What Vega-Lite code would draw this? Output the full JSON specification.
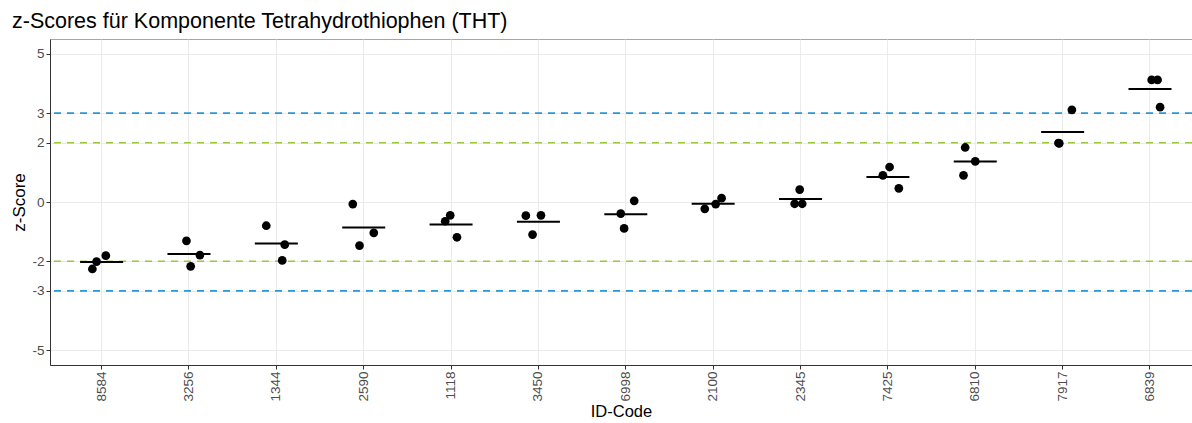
{
  "$schema": "https://vega.github.io/schema/vega-lite/v6.json",
  "autosize": {"type": "none"},
  "width": 1142,
  "height": 326,
  "padding": {"left": 50, "top": 39, "right": 0, "bottom": 58},
  "background": "white",
  "title": {
    "text": "z-Scores für Komponente Tetrahydrothiophen (THT)",
    "anchor": "start",
    "frame": "group",
    "dx": -38,
    "offset": 7,
    "font": "Liberation Sans",
    "fontSize": 21.5,
    "fontWeight": "normal",
    "color": "#000000"
  },
  "config": {
    "font": "Liberation Sans",
    "view": {"stroke": "#a6a6a6", "strokeWidth": 1}
  },
  "datasets": {
    "scores": [
      {"id": "8584", "z": -2.26, "jitter": -0.11},
      {"id": "8584", "z": -2.01, "jitter": -0.06},
      {"id": "8584", "z": -1.81, "jitter": 0.05},
      {"id": "3256", "z": -1.31, "jitter": -0.03},
      {"id": "3256", "z": -1.79, "jitter": 0.13},
      {"id": "3256", "z": -2.17, "jitter": 0.02},
      {"id": "1344", "z": -0.8, "jitter": -0.12},
      {"id": "1344", "z": -1.44, "jitter": 0.1},
      {"id": "1344", "z": -1.97, "jitter": 0.07},
      {"id": "2590", "z": -0.07, "jitter": -0.13},
      {"id": "2590", "z": -1.04, "jitter": 0.12},
      {"id": "2590", "z": -1.47, "jitter": -0.05},
      {"id": "1118", "z": -0.45, "jitter": -0.01},
      {"id": "1118", "z": -0.65, "jitter": -0.07},
      {"id": "1118", "z": -1.19, "jitter": 0.07},
      {"id": "3450", "z": -0.46, "jitter": -0.15},
      {"id": "3450", "z": -0.45, "jitter": 0.03},
      {"id": "3450", "z": -1.1, "jitter": -0.07},
      {"id": "6998", "z": 0.04, "jitter": 0.1},
      {"id": "6998", "z": -0.39, "jitter": -0.06},
      {"id": "6998", "z": -0.89, "jitter": -0.02},
      {"id": "2100", "z": -0.23, "jitter": -0.1},
      {"id": "2100", "z": -0.07, "jitter": 0.03},
      {"id": "2100", "z": 0.13, "jitter": 0.1},
      {"id": "2345", "z": 0.42, "jitter": -0.01},
      {"id": "2345", "z": -0.06, "jitter": -0.07},
      {"id": "2345", "z": -0.06, "jitter": 0.02},
      {"id": "7425", "z": 1.18, "jitter": 0.02},
      {"id": "7425", "z": 0.9, "jitter": -0.06},
      {"id": "7425", "z": 0.46, "jitter": 0.13},
      {"id": "6810", "z": 1.84, "jitter": -0.12},
      {"id": "6810", "z": 1.37, "jitter": 0.0},
      {"id": "6810", "z": 0.9, "jitter": -0.14},
      {"id": "7917", "z": 3.11, "jitter": 0.11},
      {"id": "7917", "z": 1.99, "jitter": -0.05},
      {"id": "7917", "z": 1.98, "jitter": -0.04},
      {"id": "6839", "z": 4.12, "jitter": 0.02},
      {"id": "6839", "z": 4.12, "jitter": 0.09},
      {"id": "6839", "z": 3.2, "jitter": 0.12}
    ],
    "limits": [
      {"z": 3, "level": "3"},
      {"z": -3, "level": "3"},
      {"z": 2, "level": "2"},
      {"z": -2, "level": "2"}
    ]
  },
  "layer": [
    {
      "data": {"name": "limits"},
      "mark": {"type": "rule", "strokeDash": [7, 6], "strokeWidth": 1.6},
      "encoding": {
        "y": {
          "field": "z",
          "type": "quantitative",
          "title": "z-Score",
          "scale": {"domain": [-5.5, 5.5], "nice": false, "zero": false},
          "axis": {
            "values": [-5, -3, -2, 0, 2, 3, 5],
            "labelExpr": "datum.value < 0 ? '-' + abs(datum.value) : '' + datum.value",
            "labelFontSize": 13.5,
            "labelColor": "#4d4d4d",
            "labelPadding": 2,
            "tickSize": 4,
            "tickColor": "#333333",
            "domainColor": "#333333",
            "gridColor": "#ebebeb",
            "gridWidth": 1,
            "titleFontSize": 17,
            "titleFontWeight": "normal",
            "titleColor": "#000000",
            "titlePadding": 3
          }
        },
        "color": {
          "field": "level",
          "type": "nominal",
          "scale": {"domain": ["2", "3"], "range": ["#9cc83c", "#2a97d6"]},
          "legend": null
        }
      }
    },
    {
      "data": {"name": "scores"},
      "mark": {"type": "tick", "color": "#000000", "thickness": 2, "size": 43},
      "encoding": {
        "x": {
          "field": "id",
          "type": "nominal",
          "title": "ID-Code",
          "sort": ["8584", "3256", "1344", "2590", "1118", "3450", "6998", "2100", "2345", "7425", "6810", "7917", "6839"]
        },
        "y": {"field": "z", "type": "quantitative", "aggregate": "mean", "title": "z-Score"}
      }
    },
    {
      "data": {"name": "scores"},
      "mark": {"type": "circle", "size": 76, "color": "#000000", "opacity": 1},
      "encoding": {
        "x": {
          "field": "id",
          "type": "nominal",
          "title": "ID-Code",
          "sort": ["8584", "3256", "1344", "2590", "1118", "3450", "6998", "2100", "2345", "7425", "6810", "7917", "6839"],
          "scale": {"type": "band", "paddingInner": 0.0385, "paddingOuter": 0.055, "align": 1},
          "axis": {
            "labelAngle": 270,
            "labelAlign": "right",
            "labelBaseline": "middle",
            "labelFontSize": 13.5,
            "labelColor": "#4d4d4d",
            "labelPadding": 2,
            "tickSize": 4,
            "tickColor": "#333333",
            "domainColor": "#333333",
            "bandPosition": 0.5,
            "grid": true,
            "gridColor": "#ebebeb",
            "gridWidth": 1,
            "titleFontSize": 16.5,
            "titleFontWeight": "normal",
            "titleColor": "#000000",
            "titlePadding": 2
          }
        },
        "xOffset": {
          "field": "jitter",
          "type": "quantitative",
          "scale": {"domain": [-0.5, 0.5], "nice": false, "zero": false}
        },
        "y": {"field": "z", "type": "quantitative", "title": "z-Score"}
      }
    }
  ]
}
